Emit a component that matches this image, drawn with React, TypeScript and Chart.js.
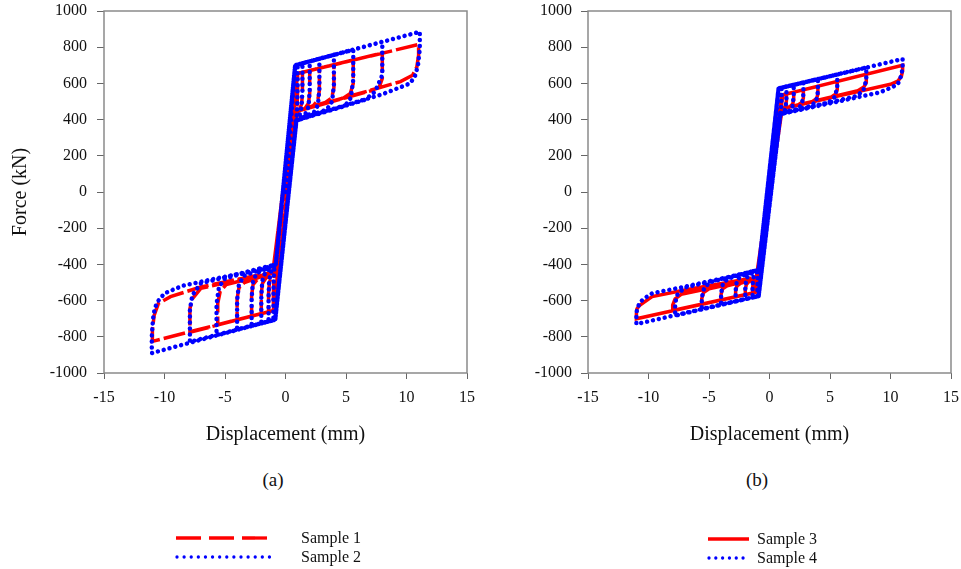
import React, { useEffect, useRef } from "react";
import { Chart, registerables } from "chart.js";

Chart.register(...registerables);

// ---------- Data ----------
// Axis ranges / ticks
const X_MIN = -15;
const X_MAX = 15;
const X_STEP = 5;
const Y_MIN = -1000;
const Y_MAX = 1000;
const Y_STEP = 200;

// Each cycle row: [amplitude (mm), peak force (kN), force at end of unloading drop,
//                  then return-path points x1, y1, x2, y2, ... ]
// Sample 1 (panel a, red dashed)
const S1_POS_YIELD = [1.0, 655];
const S1_NEG_YIELD = [-1.0, -655];
const S1_POS = [
  [1.0, 655, 560, 0.97, 495, 0.93, 458],
  [1.4, 662, 545, 1.33, 485, 1.17, 458, 1.0, 447],
  [2.0, 671, 545, 1.9, 490, 1.62, 463, 1.0, 447],
  [2.8, 684, 560, 2.66, 505, 2.3, 477, 1.0, 447],
  [4.0, 703, 575, 3.82, 520, 3.3, 495, 1.0, 447],
  [5.6, 729, 600, 5.36, 545, 4.8, 520, 1.0, 447],
  [8.0, 768, 628, 7.75, 580, 7.1, 560, 1.0, 447],
  [11.0, 815, 755, 10.85, 690, 10.5, 645, 9.5, 610, 5.5, 533, 1.0, 447],
];
const S1_NEG = [
  [-1.0, -655, -560, -0.97, -495, -0.93, -458],
  [-1.4, -662, -560, -1.33, -500, -1.16, -465, -1.05, -445],
  [-2.0, -672, -560, -1.9, -505, -1.65, -478, -1.05, -445],
  [-2.8, -686, -570, -2.68, -512, -2.35, -485, -1.05, -445],
  [-4.0, -706, -590, -3.85, -530, -3.4, -500, -1.05, -445],
  [-5.6, -733, -615, -5.4, -550, -4.9, -512, -1.05, -445],
  [-7.9, -775, -645, -7.72, -592, -7.0, -532, -1.05, -445],
  [-11.0, -825, -760, -10.85, -680, -10.5, -615, -9.5, -578, -7.0, -525, -4.0, -482, -1.05, -445],
];

// Sample 2 (panel a, blue dotted)
const S2_POS_YIELD = [0.8, 700];
const S2_NEG_YIELD = [-0.85, -705];
const S2_POS = [
  [1.0, 704, 600, 0.97, 480, 0.92, 420, 0.85, 398],
  [1.4, 711, 560, 1.33, 470, 1.15, 420, 0.9, 395],
  [2.0, 722, 560, 1.9, 470, 1.6, 425, 0.9, 395],
  [2.8, 736, 570, 2.68, 480, 2.35, 440, 0.9, 395],
  [4.0, 758, 590, 3.85, 500, 3.4, 455, 0.9, 395],
  [5.6, 786, 620, 5.4, 520, 4.9, 475, 0.9, 395],
  [8.0, 830, 646, 7.4, 554, 6.6, 510, 0.9, 395],
  [11.1, 885, 790, 10.95, 700, 10.7, 640, 10.3, 600, 8.0, 540, 5.5, 490, 2.7, 435, 0.9, 395],
];
const S2_NEG = [
  [-1.0, -710, -600, -0.97, -480, -0.92, -425, -0.8, -400],
  [-1.4, -716, -580, -1.35, -490, -1.15, -430, -0.8, -400],
  [-2.0, -727, -580, -1.92, -490, -1.65, -440, -0.8, -400],
  [-2.8, -740, -590, -2.7, -500, -2.4, -450, -0.8, -400],
  [-4.0, -760, -600, -3.85, -510, -3.4, -462, -0.8, -400],
  [-5.7, -790, -620, -5.5, -525, -5.0, -478, -0.8, -400],
  [-7.9, -828, -650, -7.7, -570, -7.0, -505, -0.8, -400],
  [-11.05, -890, -800, -10.95, -700, -10.8, -640, -10.5, -600, -10.0, -560, -8.5, -518, -5.7, -477, -2.9, -440, -0.8, -400],
];

// Sample 3 (panel b, red solid)
const S3_POS_YIELD = [1.1, 537];
const S3_NEG_YIELD = [-1.2, -555];
const S3_POS = [
  [1.0, 533, 500, 0.97, 475, 0.93, 462],
  [1.4, 541, 505, 1.35, 482, 1.25, 466, 1.05, 460],
  [2.0, 551, 510, 1.92, 487, 1.7, 472, 1.05, 460],
  [2.8, 564, 520, 2.7, 497, 2.4, 482, 1.05, 460],
  [4.0, 584, 540, 3.88, 515, 3.5, 498, 1.05, 460],
  [5.6, 611, 565, 5.45, 540, 5.0, 520, 1.05, 460],
  [8.0, 651, 605, 7.8, 580, 7.3, 560, 1.05, 460],
  [11.0, 700, 670, 10.9, 640, 10.6, 612, 10.0, 595, 5.0, 520, 1.05, 460],
];
const S3_NEG = [
  [-1.0, -552, -525, -0.97, -500, -0.94, -485],
  [-1.4, -558, -530, -1.35, -505, -1.25, -490, -1.1, -478],
  [-2.0, -567, -540, -1.92, -512, -1.7, -495, -1.1, -478],
  [-2.8, -579, -550, -2.7, -520, -2.4, -505, -1.1, -478],
  [-4.0, -596, -565, -3.88, -535, -3.5, -518, -1.1, -478],
  [-5.6, -620, -590, -5.45, -555, -5.0, -535, -1.1, -478],
  [-8.0, -655, -625, -7.8, -590, -7.3, -565, -1.1, -478],
  [-11.0, -700, -670, -10.95, -645, -10.7, -624, -9.7, -578, -7.0, -541, -1.5, -477],
];

// Sample 4 (panel b, blue dotted)
const S4_POS_YIELD = [0.75, 572];
const S4_NEG_YIELD = [-0.9, -575];
const S4_POS = [
  [1.0, 576, 520, 0.97, 470, 0.92, 440, 0.85, 430],
  [1.4, 582, 520, 1.33, 465, 1.2, 440, 0.9, 430],
  [2.0, 592, 530, 1.9, 475, 1.65, 450, 0.9, 430],
  [2.8, 605, 540, 2.68, 485, 2.35, 460, 0.9, 430],
  [4.0, 624, 555, 3.85, 500, 3.4, 475, 0.9, 430],
  [5.6, 649, 580, 5.4, 525, 4.9, 495, 0.9, 430],
  [8.0, 688, 620, 7.75, 560, 7.2, 530, 0.9, 430],
  [11.0, 735, 690, 10.9, 645, 10.6, 595, 10.1, 578, 9.1, 550, 5.0, 490, 0.9, 430],
];
const S4_NEG = [
  [-1.0, -577, -520, -0.97, -470, -0.93, -445, -0.85, -430],
  [-1.4, -583, -525, -1.35, -475, -1.2, -450, -0.9, -430],
  [-2.0, -592, -535, -1.92, -480, -1.7, -458, -0.9, -430],
  [-2.8, -604, -545, -2.7, -490, -2.4, -466, -0.9, -430],
  [-4.0, -622, -560, -3.85, -505, -3.4, -478, -0.9, -430],
  [-5.6, -646, -585, -5.4, -530, -4.9, -498, -0.9, -430],
  [-7.8, -683, -615, -7.6, -565, -7.0, -528, -0.9, -430],
  [-11.0, -730, -685, -10.95, -645, -10.7, -610, -10.4, -590, -9.7, -560, -7.0, -523, -2.0, -449, -0.9, -431],
];

// Text
const X_TITLE = "Displacement (mm)";
const Y_TITLE = "Force (kN)";
const PANEL_LABELS = ["(a)", "(b)"];
const LEGEND_A = ["Sample 1", "Sample 2"];
const LEGEND_B = ["Sample 3", "Sample 4"];

// ---------- Helpers ----------
const FONT = '"Liberation Serif", "Times New Roman", Times, serif';
const RED = "#ff0000";
const BLUE = "#0000ff";

type Pt = { x: number; y: number };

function addHalf(pts: Pt[], row: number[], yld: number[]) {
  const [a, peak, bend, ...rest] = row;
  if (Math.abs(a) > Math.abs(yld[0]) + 0.05) pts.push({ x: yld[0], y: yld[1] });
  pts.push({ x: a, y: peak }, { x: a, y: bend });
  for (let k = 0; k + 1 < rest.length; k += 2) pts.push({ x: rest[k], y: rest[k + 1] });
}

function buildPath(pos: number[][], neg: number[][], posYield: number[], negYield: number[]): Pt[] {
  const pts: Pt[] = [{ x: 0, y: 0 }];
  for (let i = 0; i < pos.length; i++) {
    addHalf(pts, pos[i], posYield);
    addHalf(pts, neg[i], negYield);
  }
  return pts;
}

const framePlugin = {
  id: "frame",
  afterDraw(chart: any) {
    const { ctx, chartArea } = chart;
    const { left, top, right, bottom } = chartArea;
    ctx.save();
    ctx.strokeStyle = "#8a8a8a";
    ctx.lineWidth = 1.5;
    ctx.strokeRect(left, top, right - left, bottom - top);
    ctx.restore();
  },
};

function makeConfig(datasets: any[], yWidth: number, padRight: number, showYTitle: boolean, yLabelPad: number) {
  return {
    type: "scatter",
    data: { datasets },
    options: {
      animation: false,
      responsive: false,
      maintainAspectRatio: false,
      layout: { padding: { left: 0, right: padRight, top: 11, bottom: 13 } },
      plugins: { legend: { display: false }, tooltip: { enabled: false } },
      elements: { point: { radius: 0, hoverRadius: 0 } },
      scales: {
        x: {
          type: "linear",
          min: X_MIN,
          max: X_MAX,
          ticks: {
            stepSize: X_STEP,
            color: "#111",
            font: { family: FONT, size: 16 },
            padding: 9,
            maxRotation: 0,
            callback: (v: any) => String(v),
          },
          grid: { drawOnChartArea: false, drawTicks: true, tickLength: 6, color: "#666" },
          border: { display: false },
          title: { display: true, text: X_TITLE, color: "#111", font: { family: FONT, size: 20 }, padding: { top: 0, bottom: 0 } },
          afterFit: (s: any) => {
            s.height = 74;
            s.paddingLeft = 0;
            s.paddingRight = 0;
          },
        },
        y: {
          type: "linear",
          min: Y_MIN,
          max: Y_MAX,
          ticks: {
            stepSize: Y_STEP,
            color: "#111",
            font: { family: FONT, size: 16 },
            padding: yLabelPad,
            callback: (v: any) => String(v),
          },
          grid: { drawOnChartArea: false, drawTicks: true, tickLength: 7, color: "#666" },
          border: { display: false },
          title: { display: showYTitle, text: Y_TITLE, color: "#111", font: { family: FONT, size: 20 }, padding: { top: 9, bottom: 0 } },
          afterFit: (s: any) => {
            s.width = yWidth;
            s.paddingTop = 0;
            s.paddingBottom = 0;
          },
        },
      },
    },
    plugins: [framePlugin],
  };
}

function ChartCanvas(props: { config: any; left: number; width: number; height: number }) {
  const ref = useRef<HTMLCanvasElement | null>(null);
  useEffect(() => {
    if (!ref.current) return;
    const chart = new Chart(ref.current, props.config);
    return () => chart.destroy();
  }, []);
  return (
    <canvas
      ref={ref}
      width={props.width}
      height={props.height}
      style={{ position: "absolute", left: props.left, top: 0, width: props.width, height: props.height }}
    />
  );
}

export default function App() {
  const dsA = [
    {
      label: LEGEND_A[1],
      data: buildPath(S2_POS, S2_NEG, S2_POS_YIELD, S2_NEG_YIELD),
      showLine: true,
      borderColor: BLUE,
      borderWidth: 4.5,
      borderDash: [0.01, 6],
      borderCapStyle: "round",
      borderJoinStyle: "round",
      tension: 0,
      order: 0,
    },
    {
      label: LEGEND_A[0],
      data: buildPath(S1_POS, S1_NEG, S1_POS_YIELD, S1_NEG_YIELD),
      showLine: true,
      borderColor: RED,
      borderWidth: 3.5,
      borderDash: [22, 4],
      borderCapStyle: "butt",
      tension: 0,
      order: 1,
    },
  ];
  const dsB = [
    {
      label: LEGEND_B[1],
      data: buildPath(S4_POS, S4_NEG, S4_POS_YIELD, S4_NEG_YIELD),
      showLine: true,
      borderColor: BLUE,
      borderWidth: 4.5,
      borderDash: [0.01, 6],
      borderCapStyle: "round",
      borderJoinStyle: "round",
      tension: 0,
      order: 0,
    },
    {
      label: LEGEND_B[0],
      data: buildPath(S3_POS, S3_NEG, S3_POS_YIELD, S3_NEG_YIELD),
      showLine: true,
      borderColor: RED,
      borderWidth: 3.5,
      tension: 0,
      order: 1,
    },
  ];

  const cfgA = makeConfig(dsA, 104, 13, true, 10);
  const cfgB = makeConfig(dsB, 108, 10, false, 9);

  const textStyle = (left: number, top: number, size: number, center = false): React.CSSProperties => ({
    position: "absolute",
    left,
    top,
    fontFamily: FONT,
    fontSize: size,
    lineHeight: 1,
    color: "#111",
    whiteSpace: "nowrap",
    transform: center ? "translate(-50%, -50%)" : "translate(0, -50%)",
  });

  return (
    <div style={{ position: "absolute", left: 0, top: 0, width: 961, height: 569, background: "#fff", overflow: "hidden" }}>
      <ChartCanvas config={cfgA} left={0} width={480} height={460} />
      <ChartCanvas config={cfgB} left={480} width={481} height={460} />
      <div style={textStyle(273, 479, 19, true)}>{PANEL_LABELS[0]}</div>
      <div style={textStyle(757, 479, 19, true)}>{PANEL_LABELS[1]}</div>
      <svg width={961} height={569} style={{ position: "absolute", left: 0, top: 0 }}>
        <line x1={176} y1={538} x2={267} y2={538} stroke={RED} strokeWidth={3.3} strokeDasharray="25 8" />
        <line x1={177} y1={557} x2={275} y2={557} stroke={BLUE} strokeWidth={3.3} strokeDasharray="0.01 7.1" strokeLinecap="round" />
        <line x1={708} y1={539} x2={749} y2={539} stroke={RED} strokeWidth={3.3} />
        <line x1={709} y1={558} x2={748} y2={558} stroke={BLUE} strokeWidth={3.3} strokeDasharray="0.01 6.8" strokeLinecap="round" />
      </svg>
      <div style={textStyle(301, 538, 16)}>{LEGEND_A[0]}</div>
      <div style={textStyle(301, 557, 16)}>{LEGEND_A[1]}</div>
      <div style={textStyle(757, 539, 16)}>{LEGEND_B[0]}</div>
      <div style={textStyle(757, 558, 16)}>{LEGEND_B[1]}</div>
    </div>
  );
}
